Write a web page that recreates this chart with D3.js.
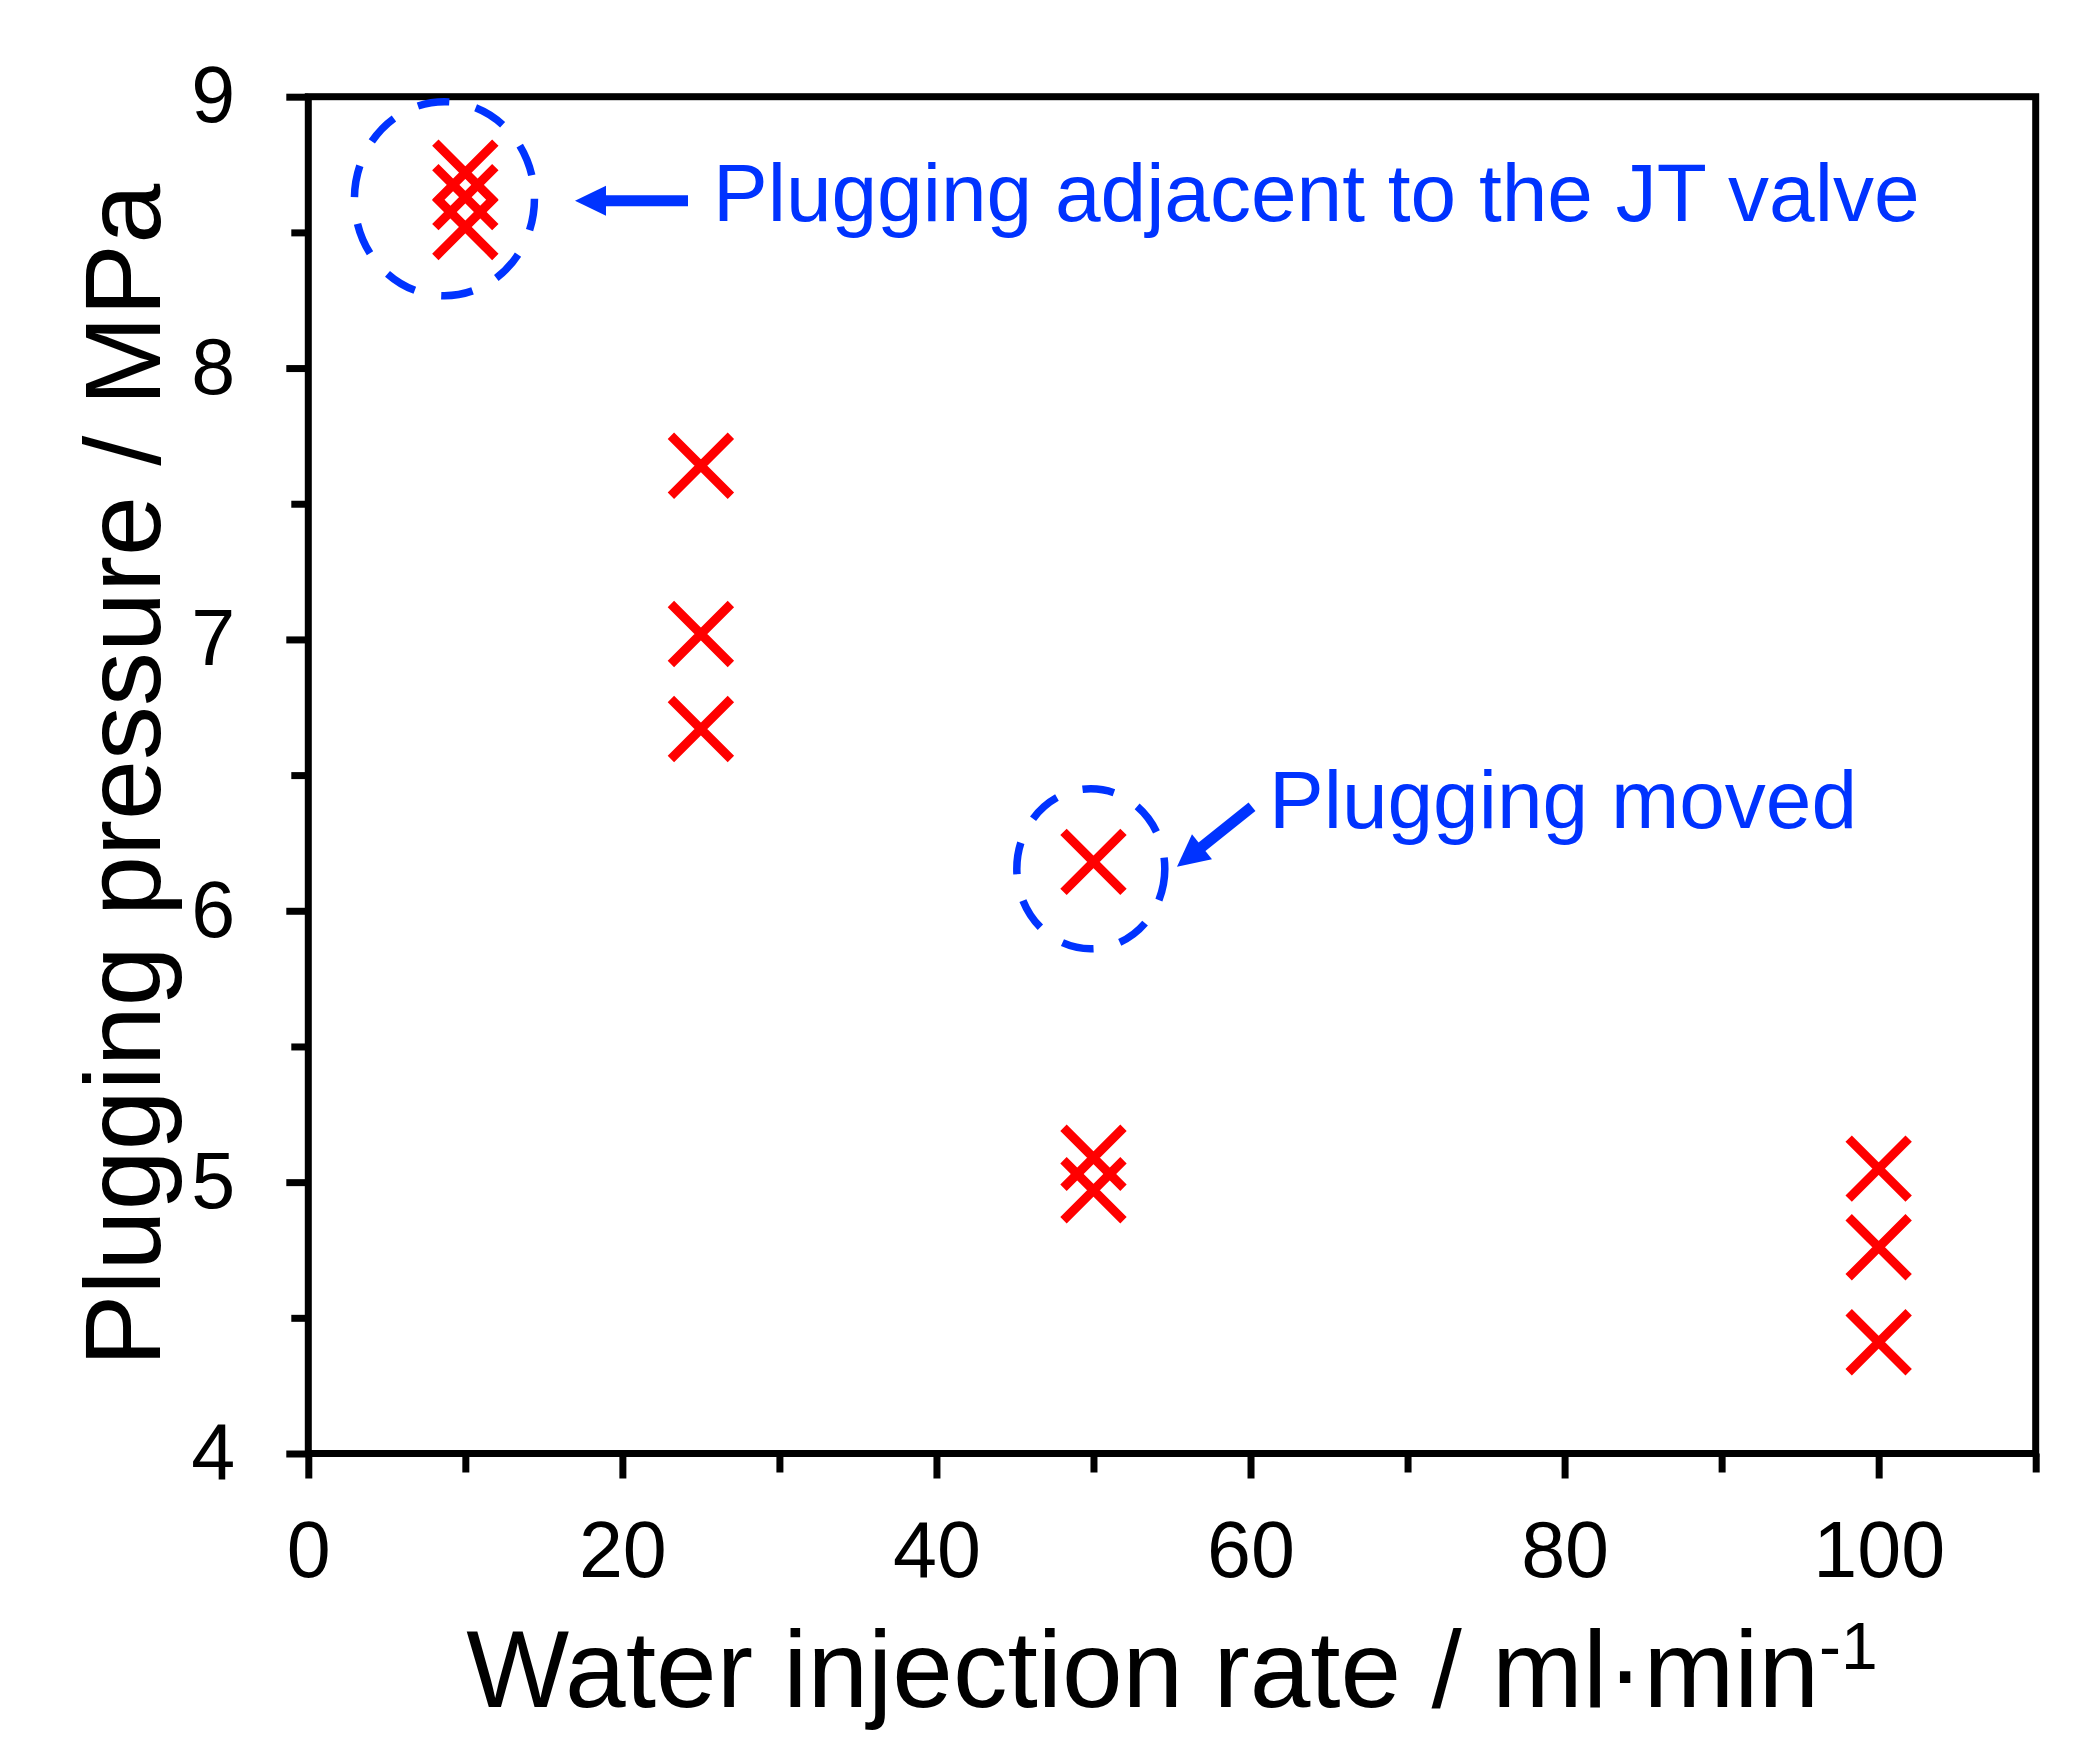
<!DOCTYPE html>
<html><head><meta charset="utf-8">
<script src="https://cdn.jsdelivr.net/npm/d3@7"></script>
<style>body{margin:0;background:#fff}</style>
</head><body>
<script>
// ---- data ----
const rates = [10, 10, 10, 25, 25, 25, 50, 50, 50, 100, 100, 100];
const pressures = [8.72, 8.63, 8.52, 7.64, 7.02, 6.67, 6.18, 5.09, 4.97, 5.05, 4.76, 4.41];
const xMajorTicks = [0, 20, 40, 60, 80, 100];
const xMinorTicks = [10, 30, 50, 70, 90, 110];
const yMajorTicks = [4, 5, 6, 7, 8, 9];
const yMinorTicks = [4.5, 5.5, 6.5, 7.5, 8.5];
const xTitle = "Water injection rate / ml\u00B7min";
const xTitleSup = "-1";
const yTitle = "Plugging pressure / MPa";
const noteTexts = ["Plugging adjacent to the JT valve", "Plugging moved"];
const noteCircleX = [8.67, 49.83];
const noteCircleY = [8.624, 6.155];

// ---- layout ----
const W = 2091, H = 1746;
const FONT = "'Liberation Sans', Arial, Helvetica, sans-serif";
const BLUE = "#0033ff", RED = "#ff0000";
const x = d3.scaleLinear().domain([0, 110]).range([308.3, 2035.7]);
const y = d3.scaleLinear().domain([4, 9]).range([1453.5, 96.7]);

const svg = d3.select("body").append("svg").attr("width", W).attr("height", H)
  .style("display", "block").style("background", "#fff");

// axes
function styleAxis(g) {
  g.select(".domain").remove();
  g.selectAll("line").attr("stroke", "#000").attr("stroke-width", 7);
  g.selectAll("text").attr("fill", "#000").style("font-family", FONT).style("font-size", "79px");
}
svg.append("g").attr("transform", `translate(0,${y(4)})`)
  .call(d3.axisBottom(x).tickValues(xMinorTicks).tickSize(19).tickFormat(""))
  .call(styleAxis);
svg.append("g").attr("transform", `translate(0,${y(4)})`)
  .call(d3.axisBottom(x).tickValues(xMajorTicks).tickSize(25).tickPadding(42).tickFormat(d3.format("d")))
  .call(styleAxis);
svg.append("g").attr("transform", `translate(${x(0)},0)`)
  .call(d3.axisLeft(y).tickValues(yMinorTicks).tickSize(17).tickFormat(""))
  .call(styleAxis);
svg.append("g").attr("transform", `translate(${x(0)},0)`)
  .call(d3.axisLeft(y).tickValues(yMajorTicks).tickSize(22).tickPadding(51).tickFormat(d3.format("d")))
  .call(styleAxis);

// frame
svg.append("rect")
  .attr("x", x(0)).attr("y", y(9))
  .attr("width", x(110) - x(0)).attr("height", y(4) - y(9))
  .attr("fill", "none").attr("stroke", "#000").attr("stroke-width", 7);

// axis titles
const xt = svg.append("text").attr("x", 1172).attr("y", 1707)
  .attr("text-anchor", "middle").style("font-family", FONT).style("font-size", "109px").attr("fill", "#000");
xt.append("tspan").text(xTitle);
xt.append("tspan").attr("dy", -38).style("font-size", "66px").text(xTitleSup);

svg.append("text").attr("transform", `translate(160,${(y(4) + y(9)) / 2}) rotate(-90)`)
  .attr("text-anchor", "middle").style("font-family", FONT).style("font-size", "108px")
  .attr("fill", "#000").text(yTitle);

// points (X markers)
const h = 30;
const pts = rates.map((r, i) => ({ r, p: pressures[i] }));
const mk = svg.append("g").attr("stroke", RED).attr("stroke-width", 9).attr("fill", "none");
mk.selectAll("path").data(pts).join("path")
  .attr("d", d => {
    const cx = x(d.r), cy = y(d.p);
    return `M${cx - h},${cy - h}L${cx + h},${cy + h}M${cx - h},${cy + h}L${cx + h},${cy - h}`;
  });

// annotations: dashed circles
const radii = [[90, 97], [74, 80]];
svg.append("g").selectAll("ellipse").data(noteCircleX).join("ellipse")
  .attr("cx", d => x(d)).attr("cy", (d, i) => y(noteCircleY[i]))
  .attr("rx", (d, i) => radii[i][0]).attr("ry", (d, i) => radii[i][1])
  .attr("fill", "none").attr("stroke", BLUE).attr("stroke-width", 7.5)
  .attr("stroke-dasharray", "32,27");

// arrows
function arrow(x1, y1, x2, y2, headLen, headHalf, sw) {
  const dx = x2 - x1, dy = y2 - y1, L = Math.hypot(dx, dy);
  const ux = dx / L, uy = dy / L, px = -uy, py = ux;
  const bx = x2 - ux * headLen, by = y2 - uy * headLen;
  svg.append("line").attr("x1", x1).attr("y1", y1).attr("x2", bx + ux * 2).attr("y2", by + uy * 2)
    .attr("stroke", BLUE).attr("stroke-width", sw);
  svg.append("path")
    .attr("d", `M${x2},${y2}L${bx + px * headHalf},${by + py * headHalf}L${bx - px * headHalf},${by - py * headHalf}Z`)
    .attr("fill", BLUE);
}
arrow(688, 200.7, 575, 200.7, 31, 15, 11);
arrow(1252, 806.7, 1177, 866.7, 32, 16, 11);

// annotation texts
svg.append("text").attr("x", 713).attr("y", 221)
  .style("font-family", FONT).style("font-size", "82px").attr("fill", BLUE).text(noteTexts[0]);
svg.append("text").attr("x", 1269).attr("y", 828)
  .style("font-family", FONT).style("font-size", "82px").attr("fill", BLUE).text(noteTexts[1]);
</script>
</body></html>
